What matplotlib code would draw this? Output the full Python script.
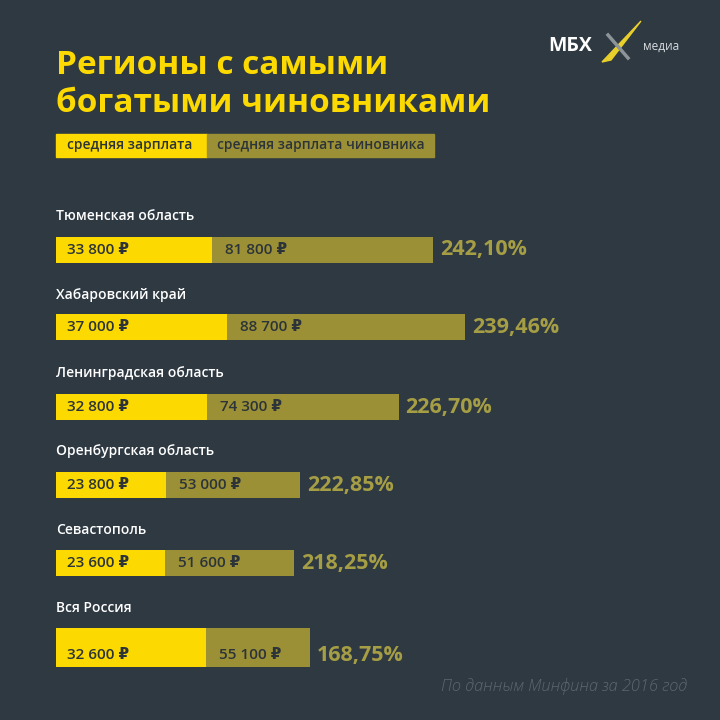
import matplotlib.pyplot as plt
from matplotlib.patches import Rectangle, Polygon

# данные
regions = ['Тюменская область', 'Хабаровский край', 'Ленинградская область',
           'Оренбургская область', 'Севастополь', 'Вся Россия']
avg_salary = [33800, 37000, 32800, 23800, 23600, 32600]
official_salary = [81800, 88700, 74300, 53000, 51600, 55100]
ratio_labels = ['242,10%', '239,46%', '226,70%', '222,85%', '218,25%', '168,75%']

BG = '#2e3942'
YELLOW = '#fcd900'
OLIVE = '#9b9035'
PCT = '#a69e45'
DARK = '#2c343a'

plt.rcParams['font.family'] = ['Open Sans', 'DejaVu Sans']

fig = plt.figure(figsize=(7.2, 7.2), dpi=100)
fig.patch.set_facecolor(BG)

# оси: x в рублях (0 на 56 px), y в пикселях сверху вниз
px_per_rub = 0.00461
ax = fig.add_axes([56 / 720, 0, 1 - 56 / 720, 1])
ax.set_xlim(0, (720 - 56) / px_per_rub)
ax.set_ylim(720, 0)
ax.axis('off')
ax.set_facecolor(BG)

# положение строк
label_y = [216, 295, 373, 451, 530, 608]
bar_y = [249.5, 327, 407, 485, 563, 647.5]
bar_h = [26, 26, 26, 26, 26, 39]
text_y = [249.5, 327, 407, 485, 563, 655]

def px(d):
    return d / px_per_rub

for i in range(len(regions)):
    ax.text(0, label_y[i], regions[i], color='white', fontsize=10,
            va='center', ha='left', fontweight='semibold')
    ax.barh(bar_y[i], official_salary[i], height=bar_h[i], color=OLIVE, left=0)
    ax.barh(bar_y[i], avg_salary[i], height=bar_h[i], color=YELLOW, left=0)
    ax.text(px(11), text_y[i], f"{avg_salary[i]:,} ₽".replace(',', ' '),
            color=DARK, fontsize=11, va='center', ha='left', fontweight='semibold')
    ax.text(avg_salary[i] + px(13), text_y[i], f"{official_salary[i]:,} ₽".replace(',', ' '),
            color=DARK, fontsize=11, va='center', ha='left', fontweight='semibold')
    ax.text(official_salary[i] + px(7), text_y[i], ratio_labels[i], color=PCT,
            fontsize=15.5, va='center', ha='left', fontweight='bold')

# заголовок
fig.text(56 / 720, 1 - 66 / 720, 'Регионы с самыми', color=YELLOW, fontsize=24,
         fontweight='bold', va='center', ha='left')
fig.text(56 / 720, 1 - 104 / 720, 'богатыми чиновниками', color=YELLOW, fontsize=24,
         fontweight='bold', va='center', ha='left')

# легенда
fig.patches.append(Rectangle((56 / 720, 1 - 157 / 720), 151 / 720, 23 / 720,
                             transform=fig.transFigure, color=YELLOW))
fig.patches.append(Rectangle((207 / 720, 1 - 157 / 720), 227 / 720, 23 / 720,
                             transform=fig.transFigure, color=OLIVE))
fig.text(67 / 720, 1 - 145.5 / 720, 'средняя зарплата', color=DARK, fontsize=10,
         fontweight='semibold', va='center', ha='left')
fig.text(217 / 720, 1 - 145.5 / 720, 'средняя зарплата чиновника', color=DARK,
         fontsize=10, fontweight='semibold', va='center', ha='left')

# логотип
fig.text(548 / 720, 1 - 46 / 720, 'МБХ', color='white', fontsize=14,
         fontweight='bold', va='center', ha='left')
fig.lines.append(plt.Line2D([608 / 720, 628 / 720], [1 - 35 / 720, 1 - 58 / 720],
                            transform=fig.transFigure, color='#8d9499', lw=2.5))
fig.patches.append(Polygon([(602 / 720, 1 - 62 / 720), (641 / 720, 1 - 21 / 720),
                            (611 / 720, 1 - 60 / 720)],
                           closed=True, transform=fig.transFigure, color='#e8cf2a'))
fig.text(643 / 720, 1 - 46 / 720, 'медиа', color='#d8dcdf', fontsize=8.5,
         va='center', ha='left')

# источник
fig.text(687 / 720, 1 - 686 / 720, 'По данным Минфина за 2016 год', color='#5d676e',
         fontsize=11.8, fontstyle='italic', fontweight='light', va='center', ha='right')

fig.savefig('out.png', dpi=100, facecolor=BG)
